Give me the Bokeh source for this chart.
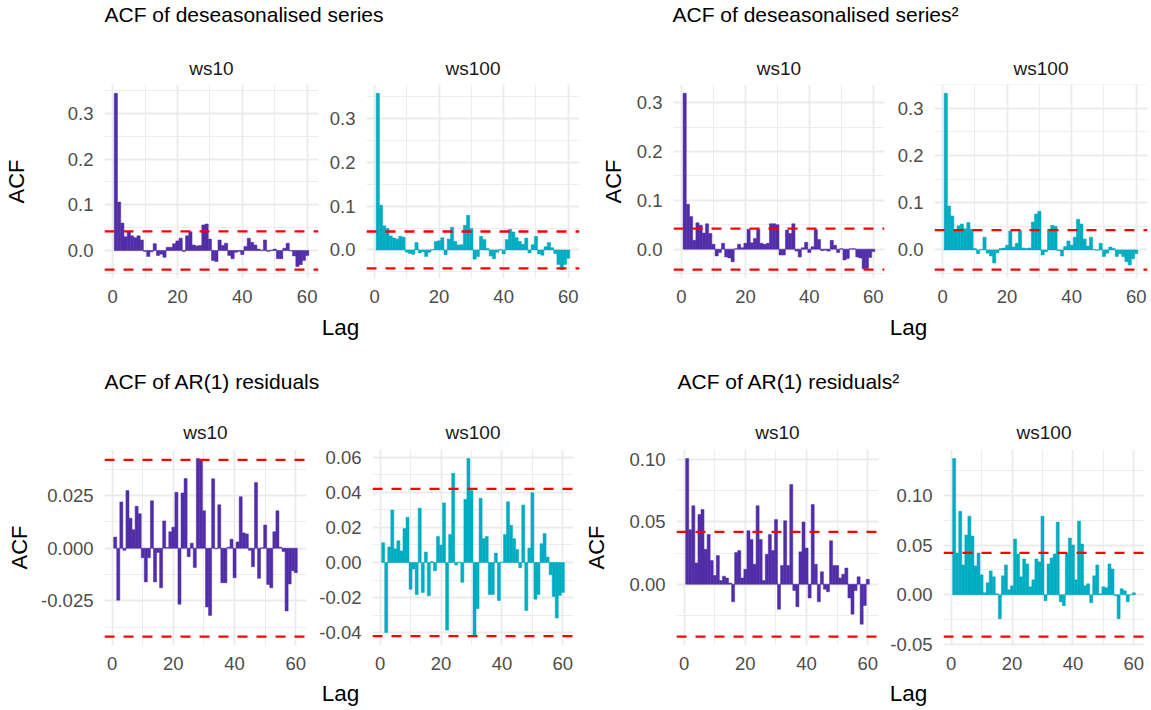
from bokeh.plotting import figure
from bokeh.models import Range1d, FixedTicker, Label, Span
from bokeh.layouts import column, row
from bokeh.embed import file_html
from bokeh.resources import INLINE

# ---------------- data ----------------
LAGS = list(range(1, 61))
CI = 0.042
X_TICKS = [0, 20, 40, 60]
X_MINOR = [10, 30, 50]
STRIPS = ["ws10", "ws100"]
TITLES = ["ACF of deseasonalised series", "ACF of deseasonalised series\u00b2",
          "ACF of AR(1) residuals", "ACF of AR(1) residuals\u00b2"]

des_ws10 = [0.344, 0.106, 0.060, 0.030, 0.042, 0.032, 0.028, 0.032, 0.023, -0.002,
            -0.013, -0.003, 0.015, -0.011, -0.008, -0.015, 0.007, 0.007, 0.015, 0.021,
            0.027, -0.002, 0.032, 0.041, 0.012, 0.010, 0.011, 0.056, 0.058, 0.025,
            -0.022, -0.024, 0.023, 0.011, 0.016, -0.011, -0.018, -0.004, -0.002, -0.009,
            0.009, 0.027, 0.018, 0.012, 0.003, 0.001, 0.023, -0.002, 0.001, 0.003,
            -0.018, -0.018, 0.005, 0.016, -0.001, -0.012, -0.035, -0.031, -0.022, -0.011]
des_ws100 = [0.357, 0.102, 0.055, 0.049, 0.032, 0.027, 0.025, 0.031, 0.029, -0.005,
             -0.008, -0.010, 0.017, -0.007, -0.004, -0.015, -0.005, 0.001, 0.019, 0.021,
             0.028, -0.011, 0.025, 0.052, 0.019, 0.011, 0.012, 0.056, 0.079, 0.049,
             -0.021, -0.015, 0.031, 0.024, 0.003, -0.014, -0.020, -0.005, 0.001, -0.009,
             0.024, 0.047, 0.041, 0.028, 0.019, 0.013, 0.027, -0.007, 0.012, 0.031,
             -0.009, -0.012, 0.007, 0.017, 0.005, -0.008, -0.033, -0.045, -0.033, -0.019]
sq_ws10 = [0.319, 0.092, 0.067, 0.018, 0.054, 0.049, 0.033, 0.052, 0.032, 0.010,
           -0.014, -0.007, 0.012, -0.016, -0.018, -0.026, 0.001, 0.010, 0.003, 0.012,
           0.041, 0.013, 0.022, 0.041, 0.012, 0.010, 0.012, 0.052, 0.052, 0.050,
           -0.012, -0.012, 0.039, 0.032, 0.052, -0.004, -0.016, 0.003, 0.014, -0.007,
           0.005, 0.040, 0.020, -0.003, -0.002, -0.004, 0.018, 0.008, -0.007, 0.001,
           -0.022, -0.019, 0.001, 0.001, -0.016, -0.018, -0.040, -0.040, -0.017, -0.005]
sq_ws100 = [0.332, 0.093, 0.072, 0.042, 0.051, 0.055, 0.045, 0.058, 0.044, 0.003,
            -0.008, 0.001, 0.027, -0.007, -0.013, -0.028, -0.006, 0.003, 0.004, 0.010,
            0.040, 0.006, 0.014, 0.041, 0.004, 0.003, 0.004, 0.059, 0.076, 0.082,
            -0.011, -0.004, 0.044, 0.052, 0.050, -0.002, -0.013, 0.007, 0.019, 0.010,
            0.027, 0.065, 0.055, 0.023, 0.008, 0.027, 0.001, -0.001, 0.014, -0.014,
            -0.007, 0.006, 0.003, -0.014, -0.008, -0.014, -0.025, -0.032, -0.019, -0.008]
res_ws10 = [0.0053, -0.0247, 0.0220, -0.0010, 0.0274, 0.0143, 0.0088, 0.0200, 0.0164, -0.0045,
            -0.0160, -0.0045, 0.0226, -0.0160, -0.0020, -0.0188, 0.0130, 0.0003, 0.0078, 0.0100,
            0.0266, -0.0266, 0.0263, 0.0331, -0.0040, 0.0024, -0.0092, 0.0427, 0.0422, 0.0178,
            -0.0279, -0.0320, 0.0330, -0.0003, 0.0207, -0.0164, -0.0164, 0.0005, 0.0043, -0.0140,
            0.0030, 0.0245, 0.0073, 0.0068, -0.0010, -0.0088, 0.0312, -0.0143, 0.0002, 0.0110,
            -0.0172, -0.0188, 0.0078, 0.0178, 0.0005, -0.0015, -0.0298, -0.0170, -0.0107, -0.0116]
res_ws100 = [0.0113, -0.0400, 0.0089, 0.0299, 0.0078, 0.0124, 0.0066, 0.0194, 0.0258, -0.0153,
             -0.0037, -0.0183, 0.0310, -0.0171, 0.0060, -0.0190, 0.0005, -0.0047, 0.0148, 0.0100,
             0.0340, -0.0386, 0.0160, 0.0509, -0.0014, 0.0002, -0.0113, 0.0361, 0.0594, 0.0410,
             -0.0423, -0.0264, 0.0367, 0.0136, 0.0148, -0.0183, -0.0183, 0.0054, -0.0217, 0.0002,
             0.0160, 0.0346, 0.0212, 0.0136, 0.0074, -0.0030, 0.0328, -0.0274, 0.0082, 0.0398,
             -0.0210, -0.0183, 0.0107, 0.0165, 0.0031, -0.0070, -0.0194, -0.0317, -0.0188, -0.0171]
sqres_ws10 = [0.101, 0.0438, 0.063, 0.017, 0.056, 0.060, 0.028, 0.040, 0.019, 0.007,
              0.023, 0.003, 0.0065, 0.005, 0.001, -0.014, 0.0254, 0.027, 0.005, 0.012,
              0.043, 0.036, 0.016, 0.063, 0.036, 0.003, 0.024, 0.040, 0.027, 0.052,
              -0.020, 0.015, 0.051, 0.015, 0.080, -0.005, -0.018, 0.026, 0.050, 0.029,
              -0.011, 0.064, 0.016, -0.014, 0.010, -0.004, -0.006, 0.035, 0.015, 0.015,
              0.005, 0.008, 0.013, -0.011, -0.024, -0.005, 0.006, -0.032, -0.017, 0.004]
sqres_ws100 = [0.137, 0.042, 0.084, 0.030, 0.060, 0.079, 0.059, 0.029, 0.042, 0.020,
               0.002, 0.012, 0.024, 0.018, 0.001, -0.024, 0.019, 0.030, 0.005, 0.009,
               0.056, 0.041, 0.018, 0.036, 0.031, 0.008, 0.015, 0.036, 0.033, 0.079,
               -0.006, 0.031, 0.037, 0.041, 0.073, -0.007, -0.011, 0.041, 0.057, 0.050,
               0.015, 0.074, 0.051, 0.009, 0.011, -0.008, 0.019, 0.030, 0.001, 0.008,
               0.007, 0.031, 0.026, -0.001, -0.024, 0.006, 0.004, -0.007, 0.000, 0.002]

YT_DES = [0.0, 0.1, 0.2, 0.3]
YL_DES = ["0.0", "0.1", "0.2", "0.3"]
YM_DES = [-0.05, 0.05, 0.15, 0.25, 0.35]
YT_RES10 = [-0.025, 0.0, 0.025]
YL_RES10 = ["-0.025", "0.000", "0.025"]
YM_RES10 = [-0.0375, -0.0125, 0.0125, 0.0375]
YT_RES100 = [-0.04, -0.02, 0.0, 0.02, 0.04, 0.06]
YL_RES100 = ["-0.04", "-0.02", "0.00", "0.02", "0.04", "0.06"]
YM_RES100 = [-0.03, -0.01, 0.01, 0.03, 0.05]
YT_SQR10 = [0.0, 0.05, 0.10]
YL_SQR10 = ["0.00", "0.05", "0.10"]
YM_SQR10 = [-0.025, 0.025, 0.075]
YT_SQR100 = [-0.05, 0.0, 0.05, 0.10]
YL_SQR100 = ["-0.05", "0.00", "0.05", "0.10"]
YM_SQR100 = [-0.025, 0.025, 0.075, 0.125]

C10 = "#512DA8"
C100 = "#00ACC1"
FONT = "Liberation Sans"
GRID = "#EBEBEB"


def panel(vals, color, strip, yt, yl, ym, fw, fh, bl, br, bt, bb,
          strip_standoff, ylabel=None, ylabel_standoff=0):
    xlo, xhi = min(LAGS) - 0.5, max(LAGS) + 0.5
    xp = 0.05 * (xhi - xlo)
    lo, hi = min(min(vals), -CI), max(max(vals), CI)
    yp = 0.05 * (hi - lo)
    p = figure(frame_width=fw, frame_height=fh,
               min_border_left=bl, min_border_right=br,
               min_border_top=bt, min_border_bottom=bb,
               x_range=Range1d(xlo - xp, xhi + xp), y_range=Range1d(lo - yp, hi + yp),
               toolbar_location=None, output_backend="svg", title=strip)
    p.vbar(x=LAGS, top=vals, bottom=0, width=1.0,
           fill_color=color, line_color=color, line_width=0.5)
    for s in (CI, -CI):
        p.add_layout(Span(location=s, dimension="width", line_color="red",
                          line_dash="10 9", line_width=2.3))
    xt = FixedTicker(ticks=X_TICKS, minor_ticks=X_MINOR)
    p.xaxis.ticker = xt
    p.xgrid.ticker = xt
    ytk = FixedTicker(ticks=yt, minor_ticks=ym)
    p.yaxis.ticker = ytk
    p.ygrid.ticker = ytk
    p.yaxis.major_label_overrides = dict(zip(yt, yl))
    for g in (p.xgrid, p.ygrid):
        g.grid_line_color = GRID
        g.grid_line_width = 1.8
        g.minor_grid_line_color = GRID
        g.minor_grid_line_width = 0.9
    for ax in (p.xaxis, p.yaxis):
        ax.axis_line_color = None
        ax.major_tick_line_color = None
        ax.minor_tick_line_color = None
        ax.major_tick_out = 0
        ax.major_tick_in = 0
        ax.minor_tick_out = 0
        ax.minor_tick_in = 0
        ax.major_label_text_color = "#4D4D4D"
        ax.major_label_text_font = FONT
        ax.major_label_text_font_size = "18.5px"
    p.xaxis.major_label_standoff = 11
    p.yaxis.major_label_standoff = 11
    if ylabel:
        p.yaxis.axis_label = ylabel
        p.yaxis.axis_label_text_font = FONT
        p.yaxis.axis_label_text_font_size = "22px"
        p.yaxis.axis_label_text_font_style = "normal"
        p.yaxis.axis_label_text_color = "black"
        p.yaxis.axis_label_standoff = ylabel_standoff
    p.outline_line_color = None
    p.title.align = "center"
    p.title.text_font = FONT
    p.title.text_font_size = "19px"
    p.title.text_font_style = "normal"
    p.title.text_color = "#1A1A1A"
    p.title.standoff = strip_standoff
    return p


def text_fig(w, h, items):
    p = figure(width=w, height=h, x_range=Range1d(0, w), y_range=Range1d(0, h),
               x_axis_type=None, y_axis_type=None, toolbar_location=None,
               output_backend="svg", min_border=0, title=None)
    p.grid.visible = False
    p.outline_line_color = None
    for (x, y, txt, size, align) in items:
        p.add_layout(Label(x=x, y=h - y, text=txt, text_font=FONT, text_font_size=size,
                           text_align=align, text_baseline="middle", text_color="black"))
    return p


# ---------------- layout ----------------
title_left = text_fig(583, 48, [(104, 14, TITLES[0], "21px", "left")])
title_right = text_fig(568, 48, [(89, 14, TITLES[1], "21px", "left")])

tl1 = panel(des_ws10, C10, STRIPS[0], YT_DES, YL_DES, YM_DES, 214, 194, 103, 5, 36, 34, 12, "ACF", 36)
tl2 = panel(des_ws100, C100, STRIPS[1], YT_DES, YL_DES, YM_DES, 213, 194, 43, 5, 36, 34, 12)
tr1 = panel(sq_ws10, C10, STRIPS[0], YT_DES, YL_DES, YM_DES, 211, 194, 89, 5, 36, 34, 12, "ACF", 8)
tr2 = panel(sq_ws100, C100, STRIPS[1], YT_DES, YL_DES, YM_DES, 213, 194, 45, 5, 36, 34, 12)

mid_left = text_fig(583, 100, [(340, 15, "Lag", "22.5px", "center"),
                               (104, 69, TITLES[2], "21px", "left")])
mid_right = text_fig(568, 100, [(325, 15, "Lag", "22.5px", "center"),
                                (94, 69, TITLES[3], "21px", "left")])

bl1 = panel(res_ws10, C10, STRIPS[0], YT_RES10, YL_RES10, YM_RES10, 202, 196, 104, 6, 37, 33, 13, "ACF", 6)
bl2 = panel(res_ws100, C100, STRIPS[1], YT_RES100, YL_RES100, YM_RES100, 201, 196, 60, 7, 37, 33, 13)
br1 = panel(sqres_ws10, C10, STRIPS[0], YT_SQR10, YL_SQR10, YM_SQR10, 202, 196, 96, 6, 37, 33, 13, "ACF", 17)
br2 = panel(sqres_ws100, C100, STRIPS[1], YT_SQR100, YL_SQR100, YM_SQR100, 201, 196, 59, 7, 37, 33, 13)

bot_left = text_fig(583, 32, [(340, 15, "Lag", "22.5px", "center")])
bot_right = text_fig(568, 32, [(325, 15, "Lag", "22.5px", "center")])

layout = column(
    row(title_left, title_right),
    row(tl1, tl2, tr1, tr2),
    row(mid_left, mid_right),
    row(bl1, bl2, br1, br2),
    row(bot_left, bot_right),
)

open("out.html", "w").write(file_html(layout, INLINE))
